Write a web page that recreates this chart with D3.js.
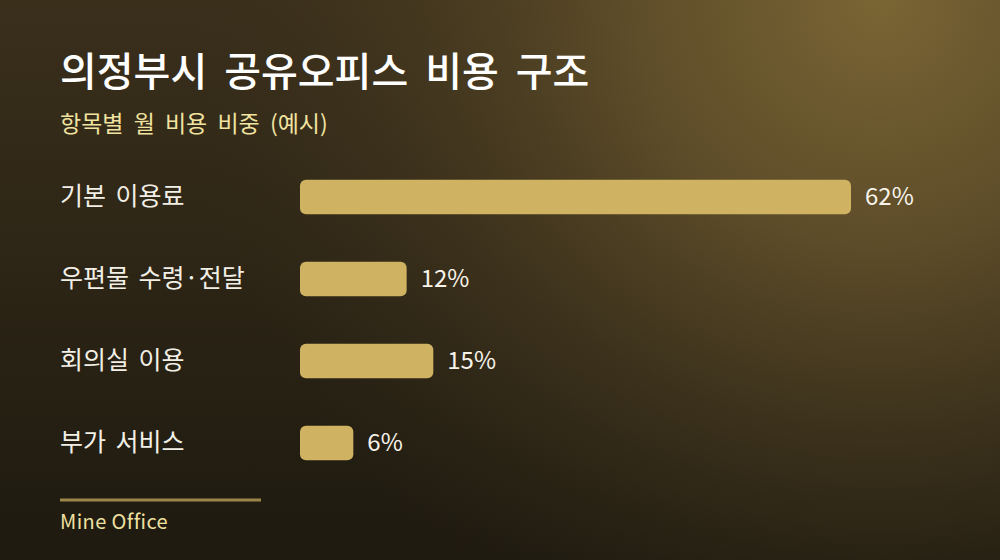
<!DOCTYPE html>
<html>
<head>
    <meta charset="UTF-8">
    <title>의정부시 공유오피스 비용 구조</title>
    <script src="https://d3js.org/d3.v7.min.js"></script>
    <style>
        html, body { margin: 0; padding: 0; background: #211c12; }
        svg { display: block; font-family: "Noto Sans CJK KR", "Noto Sans", sans-serif; }
    </style>
</head>
<body>
<svg width="1000" height="560"></svg>
<script>
    // 데이터
    var categories = ['기본 이용료', '우편물 수령·전달', '회의실 이용', '부가 서비스'];
    var shares = [62, 12, 15, 6];

    var svg = d3.select('svg');
    var width = +svg.attr('width');
    var height = +svg.attr('height');

    // 배경 그라데이션
    var defs = svg.append('defs');
    var lin = defs.append('linearGradient')
        .attr('id', 'bgLin')
        .attr('x1', 0).attr('y1', 0).attr('x2', 0).attr('y2', 1);
    lin.append('stop').attr('offset', '0%').attr('stop-color', '#3a2f1b');
    lin.append('stop').attr('offset', '100%').attr('stop-color', '#1e1a10');

    var rad = defs.append('radialGradient')
        .attr('id', 'bgRad')
        .attr('gradientUnits', 'userSpaceOnUse')
        .attr('cx', 880).attr('cy', 0).attr('r', 700);
    rad.append('stop').attr('offset', '0%').attr('stop-color', '#7a6534').attr('stop-opacity', 1);
    rad.append('stop').attr('offset', '35%').attr('stop-color', '#65532c').attr('stop-opacity', 0.85);
    rad.append('stop').attr('offset', '100%').attr('stop-color', '#3a2f1b').attr('stop-opacity', 0);

    svg.append('rect').attr('width', width).attr('height', height).attr('fill', 'url(#bgLin)');
    svg.append('rect').attr('width', width).attr('height', height).attr('fill', 'url(#bgRad)');

    // 제목
    svg.append('text')
        .attr('x', 60).attr('y', 86)
        .attr('fill', '#ffffff')
        .attr('font-size', 40)
        .attr('font-weight', 500)
        .attr('word-spacing', 8)
        .text('의정부시 공유오피스 비용 구조');

    svg.append('text')
        .attr('x', 60).attr('y', 132)
        .attr('fill', '#f1e3a0')
        .attr('font-size', 23)
        .attr('word-spacing', 5)
        .text('항목별 월 비용 비중 (예시)');

    // 스케일
    var xScale = d3.scaleLinear()
        .domain([0, d3.max(shares)])
        .range([300, 851]);

    var yScale = d3.scaleBand()
        .domain(categories)
        .range([156, 484])
        .paddingInner(0.58)
        .paddingOuter(0.29);

    var rows = svg.selectAll('.row')
        .data(categories)
        .enter().append('g')
        .attr('class', 'row')
        .attr('transform', function(d) { return 'translate(0,' + yScale(d) + ')'; });

    rows.append('text')
        .attr('x', 60)
        .attr('y', yScale.bandwidth() / 2)
        .attr('dy', '0.3em')
        .attr('fill', '#f2efe6')
        .attr('font-size', 25)
        .attr('word-spacing', 4)
        .text(function(d) { return d; });

    rows.append('rect')
        .attr('x', xScale(0))
        .attr('width', function(d, i) { return xScale(shares[i]) - xScale(0); })
        .attr('height', yScale.bandwidth())
        .attr('rx', 6)
        .attr('fill', '#cfb262');

    rows.append('text')
        .attr('x', function(d, i) { return xScale(shares[i]) + 14; })
        .attr('y', yScale.bandwidth() / 2)
        .attr('dy', '0.35em')
        .attr('fill', '#f7f3ea')
        .attr('font-size', 24)
        .text(function(d, i) { return shares[i] + '%'; });

    // 하단
    svg.append('line')
        .attr('x1', 60).attr('x2', 261)
        .attr('y1', 500).attr('y2', 500)
        .attr('stroke', '#9c8548')
        .attr('stroke-width', 3);

    svg.append('text')
        .attr('x', 60).attr('y', 529)
        .attr('fill', '#efe0a0')
        .attr('font-size', 20)
        .attr('letter-spacing', 0.4)
        .text('Mine Office');
</script>
</body>
</html>
